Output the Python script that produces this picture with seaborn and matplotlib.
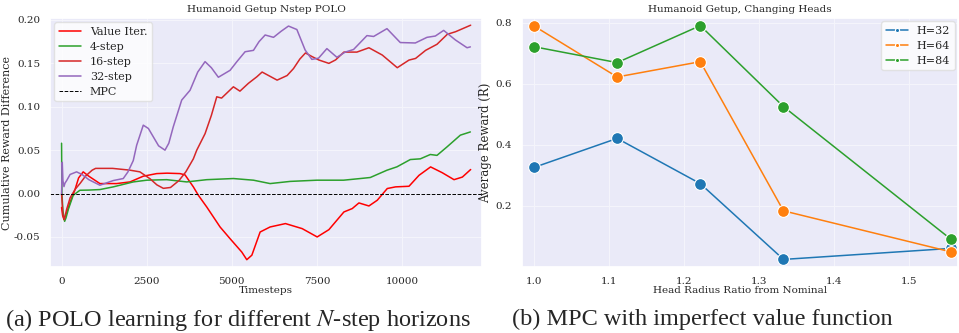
import numpy as np
import pandas as pd
import matplotlib
matplotlib.use("Agg")
import matplotlib.pyplot as plt
import seaborn as sns

# ---------------- data: left panel ----------------
vi_x = [0, 30, 70, 150, 250, 390, 500, 635, 800, 1126, 1617, 2009, 2400, 2794, 3100, 3480, 3627,
        3871, 4018, 4265, 4656, 4950, 5294, 5441, 5590, 5833, 6126, 6577, 7068, 7509, 7853, 8294,
        8539, 8735, 9029, 9274, 9568, 9812, 10206, 10500, 10841, 11184, 11529, 11774, 12018]
vi_y = [-0.016, -0.025, -0.030, -0.022, -0.010, 0.004, 0.018, 0.025, 0.020, 0.0115, 0.0115, 0.0134,
        0.020, 0.023, 0.0235, 0.023, 0.0215, 0.0077, -0.002, -0.0155, -0.0385, -0.052, -0.0674,
        -0.0762, -0.071, -0.0443, -0.0385, -0.0346, -0.0404, -0.050, -0.0416, -0.0212, -0.0173,
        -0.0108, -0.0143, -0.0077, 0.0058, 0.0077, 0.0084, 0.021, 0.0307, 0.024, 0.016, 0.019, 0.0277]

s4_x = [0, 10, 40, 90, 130, 200, 341, 538, 800, 1126, 1518, 2106, 2500, 3088, 3676, 4265, 5047,
        5637, 6126, 6716, 7500, 8284, 8774, 9069, 9559, 9853, 10245, 10539, 10833, 11029, 11324,
        11715, 12009]
s4_y = [0.058, 0.0, -0.020, -0.032, -0.028, -0.018, -0.002, 0.0038, 0.004, 0.0046, 0.0077, 0.0134,
        0.0154, 0.016, 0.0134, 0.016, 0.0173, 0.0154, 0.0115, 0.014, 0.0154, 0.0154, 0.0173, 0.0185,
        0.0269, 0.0308, 0.0392, 0.040, 0.045, 0.044, 0.0538, 0.0673, 0.071]

s16_x = [0, 40, 80, 150, 250, 400, 550, 700, 900, 1000, 1500, 2000, 2300, 2600, 2800, 2990, 3200,
         3450, 3650, 3871, 3971, 4215, 4400, 4559, 4700, 5047, 5240, 5488, 5735, 5891, 6332, 6626,
         6813, 7000, 7165, 7350, 7550, 7853, 8050, 8294, 8676, 9029, 9421, 9862, 10206, 10400,
         10694, 11029, 11332, 11576, 12018]
s16_y = [0.0, -0.025, -0.030, -0.018, -0.005, 0.005, 0.012, 0.020, 0.027, 0.029, 0.029, 0.027,
         0.025, 0.017, 0.010, 0.006, 0.007, 0.015, 0.025, 0.040, 0.050, 0.069, 0.090, 0.1115, 0.110,
         0.123, 0.118, 0.127, 0.1345, 0.140, 0.1307, 0.136, 0.144, 0.155, 0.162, 0.158, 0.154,
         0.150, 0.154, 0.163, 0.163, 0.168, 0.1596, 0.145, 0.1538, 0.1557, 0.165, 0.172, 0.1835,
         0.1865, 0.194]

s32_x = [0, 20, 40, 70, 100, 150, 250, 441, 600, 800, 1126, 1300, 1520, 1812, 1950, 2106, 2206,
         2400, 2550, 2700, 2850, 3038, 3150, 3282, 3529, 3774, 4000, 4215, 4400, 4606, 4950, 5150,
         5391, 5637, 5800, 5980, 6226, 6450, 6666, 6912, 7156, 7353, 7549, 7794, 8088, 8333, 8578,
         8971, 9167, 9559, 9950, 10392, 10735, 10980, 11225, 11569, 11912, 12009]
s32_y = [0.0, 0.036, 0.015, 0.008, 0.012, 0.015, 0.022, 0.025, 0.022, 0.016, 0.0096, 0.012, 0.015,
         0.0173, 0.025, 0.038, 0.0557, 0.0788, 0.075, 0.065, 0.055, 0.050, 0.058, 0.077, 0.1077,
         0.119, 0.140, 0.152, 0.145, 0.134, 0.142, 0.152, 0.1634, 0.165, 0.175, 0.1827, 0.180,
         0.187, 0.193, 0.189, 0.1653, 0.1546, 0.156, 0.167, 0.157, 0.163, 0.166, 0.182, 0.181,
         0.190, 0.174, 0.1735, 0.180, 0.1815, 0.188, 0.177, 0.168, 0.169]

left_series = ["Value Iter.", "4-step", "16-step", "32-step"]
left_colors = ["#ff0000", "#2ca02c", "#d62728", "#9467bd"]
mpc_level = 0.0

# ---------------- data: right panel ----------------
ratio = [1.0, 1.111, 1.222, 1.333, 1.556]
h32 = [0.326, 0.421, 0.273, 0.025, 0.061]
h64 = [0.789, 0.622, 0.672, 0.184, 0.050]
h84 = [0.721, 0.669, 0.790, 0.525, 0.092]
right_series = ["H=32", "H=64", "H=84"]
right_colors = ["#1f77b4", "#ff7f0e", "#2ca02c"]

# ---------------- style ----------------
sns.set_theme(style="darkgrid", rc={
    "axes.facecolor": "#EAEAF8",
    "grid.color": "#F4F4FB",
    "grid.linewidth": 0.8,
    "lines.solid_joinstyle": "round",
})
plt.rcParams["font.family"] = ["DejaVu Serif"]
plt.rcParams["mathtext.fontset"] = "stix"
FS = 7.5
LFS = 8

fig = plt.figure(figsize=(9.59, 3.33), dpi=100)
axL = fig.add_axes([0.052, 0.198, 0.451, 0.748])
axR = fig.add_axes([0.544, 0.198, 0.455, 0.748])

# left panel
frames = []
for name, xs, ys in zip(left_series, [vi_x, s4_x, s16_x, s32_x], [vi_y, s4_y, s16_y, s32_y]):
    frames.append(pd.DataFrame({"Timesteps": xs, "diff": ys, "series": name}))
dfL = pd.concat(frames, ignore_index=True)
sns.lineplot(data=dfL, x="Timesteps", y="diff", hue="series", hue_order=left_series,
             palette=dict(zip(left_series, left_colors)), estimator=None, sort=False,
             linewidth=1.1, ax=axL)
axL.axhline(mpc_level, color="black", linestyle="--", linewidth=0.7, label="MPC")
axL.set_xlim(-344, 12362)
axL.set_ylim(-0.0847, 0.2023)
axL.set_yticks([-0.05, 0.0, 0.05, 0.10, 0.15, 0.20])
axL.set_yticklabels(["-0.05", "0.00", "0.05", "0.10", "0.15", "0.20"])
axL.set_xticks([0, 2500, 5000, 7500, 10000])
axL.tick_params(labelsize=FS, pad=1)
axL.set_xlabel("Timesteps", fontsize=FS, labelpad=0)
axL.set_ylabel("Cumulative Reward Difference", fontsize=LFS)
axL.yaxis.set_label_coords(-0.088, 0.5)
axL.set_title("Humanoid Getup Nstep POLO", fontsize=FS, pad=4)
h, l = axL.get_legend_handles_labels()
axL.legend(h, l, loc="upper left", fontsize=LFS, frameon=True, facecolor="white",
           framealpha=0.8, edgecolor="#dddddd", borderpad=0.4, labelspacing=0.45,
           borderaxespad=0.4)

# right panel
dfR = pd.concat([pd.DataFrame({"ratio": ratio, "reward": v, "H": n})
                 for n, v in zip(right_series, [h32, h64, h84])], ignore_index=True)
sns.lineplot(data=dfR, x="ratio", y="reward", hue="H", hue_order=right_series,
             palette=dict(zip(right_series, right_colors)), marker="o", markersize=8.5,
             markeredgecolor="white", markeredgewidth=0.8, linewidth=1.1, ax=axR)
axR.set_xlim(0.9836, 1.566)
axR.set_ylim(0.0, 0.815)
axR.set_yticks([0.2, 0.4, 0.6, 0.8])
axR.set_xticks([1.0, 1.1, 1.2, 1.3, 1.4, 1.5])
axR.tick_params(labelsize=FS, pad=1)
axR.set_xlabel("Head Radius Ratio from Nominal", fontsize=FS, labelpad=0)
axR.set_ylabel("Average Reward (R)", fontsize=8.5)
axR.yaxis.set_label_coords(-0.068, 0.5)
axR.set_title("Humanoid Getup, Changing Heads", fontsize=FS, pad=4)
leg = axR.legend(loc="upper right", fontsize=LFS, frameon=True, facecolor="white",
                 framealpha=0.8, edgecolor="#dddddd", labelspacing=0.45, borderaxespad=0.3)
for hd in leg.legend_handles:
    hd.set_markersize(3)

# captions
fig.text(0.248, 0.04, "(a) POLO learning for different $N$-step horizons",
         family="Liberation Serif", fontsize=17.5, ha="center", va="center")
fig.text(0.732, 0.04, "(b) MPC with imperfect value function",
         family="Liberation Serif", fontsize=17.5, ha="center", va="center")

fig.savefig("out.png", dpi=100)
